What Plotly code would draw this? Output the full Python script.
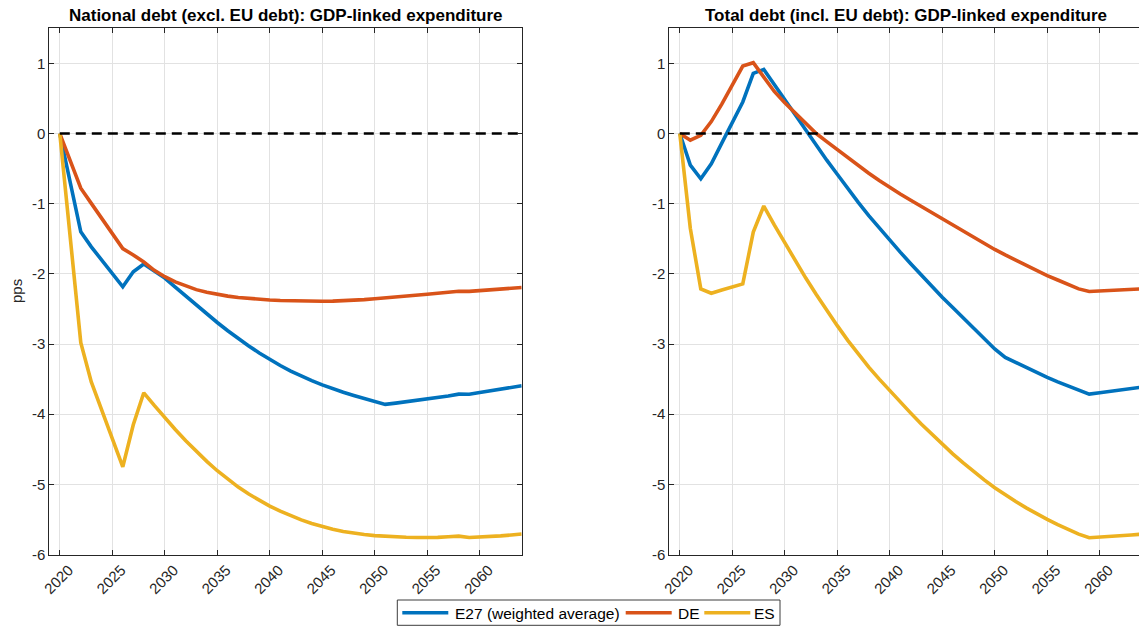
import plotly.graph_objects as go

# ---------------------------------------------------------------- data
years = list(range(2020, 2065))

series_names = ["E27 (weighted average)", "DE", "ES"]
series_colors = ["#0072BD", "#D95319", "#EDB120"]

# National debt (excl. EU debt), pps
national_e27 = [0.0, -0.72, -1.40, -1.615, -1.805, -1.995, -2.185, -1.97, -1.86, -1.96,
                -2.06, -2.19, -2.32, -2.447, -2.572, -2.693, -2.81, -2.922, -3.028, -3.127,
                -3.22, -3.306, -3.385, -3.457, -3.523, -3.583, -3.638, -3.688, -3.733, -3.773,
                -3.81, -3.86, -3.842, -3.823, -3.804, -3.785, -3.762, -3.74, -3.714, -3.716,
                -3.692, -3.67, -3.645, -3.62, -3.595]
national_de = [0.0, -0.40, -0.78, -0.995, -1.21, -1.425, -1.64, -1.73, -1.83, -1.95,
               -2.04, -2.115, -2.175, -2.225, -2.263, -2.293, -2.317, -2.336, -2.351, -2.363,
               -2.372, -2.379, -2.385, -2.389, -2.391, -2.391, -2.389, -2.385, -2.378, -2.367,
               -2.355, -2.344, -2.332, -2.319, -2.305, -2.29, -2.276, -2.262, -2.248, -2.25,
               -2.24, -2.23, -2.218, -2.207, -2.195]
national_es = [0.0, -1.45, -2.98, -3.54, -3.95, -4.35, -4.75, -4.15, -3.695, -3.875,
               -4.05, -4.218, -4.378, -4.53, -4.673, -4.806, -4.928, -5.039, -5.139, -5.229,
               -5.31, -5.383, -5.448, -5.506, -5.557, -5.602, -5.64, -5.671, -5.696, -5.716,
               -5.731, -5.742, -5.75, -5.755, -5.758, -5.759, -5.756, -5.748, -5.738, -5.758,
               -5.753, -5.745, -5.735, -5.722, -5.708]

# Total debt (incl. EU debt), pps
total_e27 = [0.0, -0.45, -0.645, -0.43, -0.137, 0.157, 0.45, 0.857, 0.914, 0.70,
             0.48, 0.27, 0.04, -0.18, -0.38, -0.58, -0.79, -0.98, -1.17, -1.35,
             -1.524, -1.69, -1.855, -2.02, -2.175, -2.333, -2.48, -2.63, -2.78, -2.925,
             -3.07, -3.19, -3.265, -3.34, -3.41, -3.476, -3.54, -3.60, -3.665, -3.714,
             -3.695, -3.675, -3.655, -3.635, -3.615]
total_de = [0.0, -0.095, -0.025, 0.17, 0.42, 0.70, 0.962, 1.01, 0.80, 0.60,
            0.44, 0.29, 0.14, 0.0, -0.115, -0.23, -0.345, -0.46, -0.565, -0.67,
            -0.771, -0.862, -0.951, -1.04, -1.127, -1.214, -1.302, -1.39, -1.478, -1.566,
            -1.652, -1.73, -1.805, -1.88, -1.952, -2.024, -2.088, -2.15, -2.214, -2.252,
            -2.245, -2.237, -2.229, -2.221, -2.213]
total_es = [0.0, -1.35, -2.214, -2.276, -2.23, -2.19, -2.143, -1.405, -1.033, -1.303,
            -1.564, -1.816, -2.06, -2.295, -2.521, -2.738, -2.947, -3.147, -3.33, -3.50,
            -3.667, -3.83, -3.985, -4.14, -4.287, -4.429, -4.565, -4.695, -4.82, -4.937,
            -5.048, -5.15, -5.245, -5.335, -5.42, -5.50, -5.575, -5.645, -5.71, -5.762,
            -5.755, -5.745, -5.735, -5.722, -5.71]

panel_titles = ["National debt (excl. EU debt): GDP-linked expenditure",
                "Total debt (incl. EU debt): GDP-linked expenditure"]
y_label = "pps"

x_ticks = list(range(2020, 2061, 5))
y_ticks = list(range(-6, 2))
y_ticktext = [str(v) for v in y_ticks]

# ---------------------------------------------------------------- layout helpers
W, H = 1139, 627
FONT = "Liberation Sans, Arial, Helvetica, sans-serif"
AX_COLOR = "#262626"
GRID_COLOR = "#e2e2e2"


def px(x):
    return x / W


def py(y):
    return 1 - y / H


left_dom = [px(49.3), px(521.7)]
right_dom = [px(669.3), 1.0]
y_dom = [py(554.5), py(28.3)]
px_per_year = (521.7 - 49.3) / 45.0
right_xmax = 2019 + (W - 669.3) / px_per_year

fig = go.Figure()

panels = [
    ("x", "y", [national_e27, national_de, national_es]),
    ("x2", "y2", [total_e27, total_de, total_es]),
]
for xa, ya, values in panels:
    for name, color, vals in zip(series_names, series_colors, values):
        fig.add_trace(go.Scatter(
            x=years, y=vals, mode="lines", name=name,
            line=dict(color=color, width=3.6),
            xaxis=xa, yaxis=ya, showlegend=False, hoverinfo="skip"))
    # zero reference line
    fig.add_trace(go.Scatter(
        x=[years[0], years[-1]], y=[0, 0], mode="lines",
        line=dict(color="black", width=2.4, dash="10px,6px"),
        xaxis=xa, yaxis=ya, showlegend=False, hoverinfo="skip"))

tickfont = dict(family=FONT, size=15, color=AX_COLOR)
xcommon = dict(
    tickmode="array", tickvals=x_ticks, ticktext=[str(t) for t in x_ticks],
    tickangle=-45, ticklabelshift=9, ticks="inside", ticklen=5, tickcolor=AX_COLOR,
    tickwidth=1, showline=True, linecolor=AX_COLOR, linewidth=1,
    showgrid=True, gridcolor=GRID_COLOR, gridwidth=1, zeroline=False,
    tickfont=tickfont, automargin=False)
ycommon = dict(
    range=[-6, 1.5], domain=y_dom,
    tickmode="array", tickvals=y_ticks, ticktext=y_ticktext,
    ticks="inside", ticklen=5, tickcolor=AX_COLOR, tickwidth=1,
    showline=True, linecolor=AX_COLOR, linewidth=1,
    showgrid=True, gridcolor=GRID_COLOR, gridwidth=1, zeroline=False,
    tickfont=tickfont, automargin=False)

fig.update_layout(
    width=W, height=H, autosize=False,
    margin=dict(l=0, r=0, t=0, b=0),
    paper_bgcolor="white", plot_bgcolor="white",
    showlegend=False,
    xaxis=dict(xcommon, domain=left_dom, range=[2019, 2064], anchor="y", mirror="ticks"),
    yaxis=dict(ycommon, anchor="x", mirror="ticks"),
    xaxis2=dict(xcommon, domain=right_dom, range=[2019, right_xmax], anchor="y2", mirror="ticks"),
    yaxis2=dict(ycommon, anchor="x2", mirror=False),
    # right-hand tick marks of the second panel (its frame runs past the page edge)
    yaxis3=dict(range=[-6, 1.5], overlaying="y2", side="right", anchor="x2",
                tickmode="array", tickvals=y_ticks, ticks="inside", ticklen=3,
                tickcolor=AX_COLOR, showticklabels=False, showline=False,
                showgrid=False, zeroline=False),
)

annotations = []
for title, dom in zip(panel_titles, [left_dom, [px(669.3), px(1141.7)]]):
    annotations.append(dict(
        text=title, x=(dom[0] + dom[1]) / 2, y=py(15.5), xref="paper", yref="paper",
        xanchor="center", yanchor="middle", showarrow=False,
        font=dict(family=FONT, size=17, color="black", weight="bold")))
annotations.append(dict(
    text=y_label, x=px(16), y=py(291), xref="paper", yref="paper",
    xanchor="center", yanchor="middle", textangle=-90, showarrow=False,
    font=dict(family=FONT, size=15, color=AX_COLOR)))

# legend box drawn below the panels
shapes = [dict(type="rect", xref="paper", yref="paper",
               x0=px(397.3), x1=px(780), y0=py(625.3), y1=py(600),
               line=dict(color="#3c3c3c", width=1), fillcolor="white")]
legend_y = 612.7
legend_items = [(402.3, 453.0), (625.7, 675.7), (704.3, 751.7)]
for (lx, tx), name, color in zip(legend_items, series_names, series_colors):
    shapes.append(dict(type="line", xref="paper", yref="paper",
                       x0=px(lx), x1=px(lx + 46), y0=py(legend_y), y1=py(legend_y),
                       line=dict(color=color, width=3.6)))
    annotations.append(dict(
        text=name, x=px(tx), y=py(legend_y + 0.5), xref="paper", yref="paper",
        xanchor="left", yanchor="middle", showarrow=False,
        font=dict(family=FONT, size=15.5, color="black")))

fig.update_layout(annotations=annotations, shapes=shapes)

fig.write_html("out.html")
